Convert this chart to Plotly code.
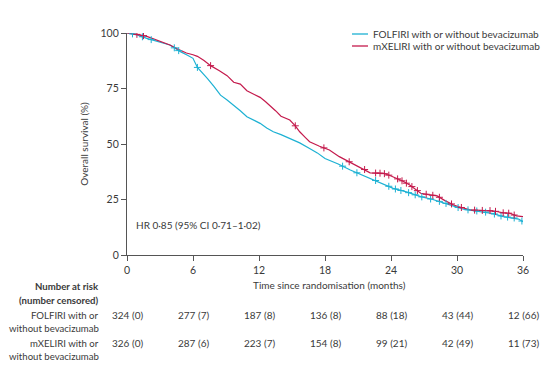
import numpy as np
import plotly.graph_objects as go

# ---- data ----
fol_t = [0, 0.5, 1.0, 1.8, 2.5, 3.2, 3.9, 4.4, 4.85, 5.5, 6.0, 6.4, 6.9, 7.3, 7.9, 8.5, 9.1, 9.7, 10.3, 10.9, 11.5, 12.1, 12.7,
         13.3, 14.0, 14.8, 15.7, 16.6, 17.3, 18.0, 19.2, 20.3, 21.2, 22.1, 23.2, 24.2, 25.4, 26.7, 27.8, 28.8, 29.7,
         30.6, 31.5, 32.4, 33.3, 34.2, 35.1, 35.6, 36.0]
fol_s = [100, 99.6, 99.0, 97.6, 96.6, 95.6, 94.6, 93.0, 91.6, 90.0, 88.6, 84.5, 82.0, 79.6, 76.0, 72.0, 69.8, 67.6, 65.0, 62.3, 60.8, 59.3, 57.2,
         55.5, 54.2, 52.5, 50.5, 48.0, 46.0, 43.5, 41.0, 38.3, 36.4, 34.5, 32.4, 30.0, 28.4, 26.3, 25.0, 23.6, 22.0,
         20.6, 20.0, 19.5, 18.6, 17.3, 16.8, 16.2, 15.0]

mx_t = [0, 0.5, 1.0, 1.8, 2.8, 3.9, 4.6, 5.4, 6.0, 6.4, 7.0, 7.6, 8.4, 9.1, 9.7, 10.3, 10.9, 11.5, 12.1, 12.6, 13.0, 13.5,
        14.0, 14.8, 15.3, 15.7, 16.2, 16.6, 17.5, 18.4, 19.3, 20.0, 20.8, 21.5, 22.1, 22.7, 23.3, 23.9, 24.5, 25.1, 25.7,
        26.2, 26.7, 27.4, 28.2, 28.9, 29.7, 30.4, 31.2, 32.1, 33.0, 33.6, 34.2, 34.8, 35.4, 36.0]
mx_s = [100, 99.7, 99.3, 98.5, 96.8, 94.6, 92.8, 91.0, 90.2, 89.5, 87.6, 85.3, 83.0, 80.8, 77.8, 77.0, 74.0, 72.5, 71.0, 69.0, 67.3, 65.0,
        62.5, 60.8, 58.2, 55.5, 53.0, 51.0, 49.0, 47.3, 44.3, 42.5, 40.5, 38.8, 37.0, 36.9, 36.8, 35.8, 34.5, 33.2, 31.5,
        29.8, 27.8, 27.2, 26.6, 24.5, 22.5, 21.4, 20.3, 20.1, 20.0, 19.6, 19.0, 18.8, 17.6, 17.3]

fol_cens = [0.5, 1.4, 2.2, 4.3, 4.7, 6.4, 19.6, 20.9, 22.6, 23.8, 24.4, 24.9, 25.6, 26.2, 26.8, 27.6, 28.4, 29.0,
            30.1, 31.0, 31.8, 32.6, 33.4, 34.0, 34.6, 35.2, 35.9]
mx_cens = [0.9, 1.5, 7.6, 15.3, 17.9, 20.2, 21.6, 22.6, 23.0, 23.4, 23.8, 24.6, 25.0, 25.4, 25.9, 26.4, 27.2, 27.8,
           28.4, 29.5, 30.4, 31.6, 32.3, 33.0, 33.5, 34.2, 34.7, 35.2]

risk_times = [0, 6, 12, 18, 24, 30, 36]
fol_risk = ["324 (0)", "277 (7)", "187 (8)", "136 (8)", "88 (18)", "43 (44)", "12 (66)"]
mx_risk = ["326 (0)", "287 (6)", "223 (7)", "154 (8)", "99 (21)", "42 (49)", "11 (73)"]

names = ["FOLFIRI with or without bevacizumab", "mXELIRI with or without bevacizumab"]
CYAN = "#1db1d3"
RED = "#c41a4c"
TXT = "#3a3a3a"
AX = "#555555"
FONT = "Lato"
FS = 10.0     # titles, legend, HR
FR = 9.6      # risk-table row labels
FT = 10.5     # tick labels
FN = 10.0     # risk numbers

# plot area in screenshot pixels (page has an 8px body margin)
PL, PR, PT, PB = 127, 523, 33, 255


def px(xp):
    return (xp - PL) / (PR - PL)


def py(yp):
    return (PB - yp) / (PB - PT)


fig = go.Figure()
fig.add_trace(go.Scatter(x=fol_t, y=fol_s, mode="lines", line=dict(color=CYAN, width=1.2), name=names[0]))
fig.add_trace(go.Scatter(x=mx_t, y=mx_s, mode="lines", line=dict(color=RED, width=1.2), name=names[1]))
fig.add_trace(go.Scatter(x=fol_cens, y=np.interp(fol_cens, fol_t, fol_s), mode="markers",
                         marker=dict(symbol="cross-thin", size=5, line=dict(color=CYAN, width=1))))
fig.add_trace(go.Scatter(x=mx_cens, y=np.interp(mx_cens, mx_t, mx_s), mode="markers",
                         marker=dict(symbol="cross-thin", size=5, line=dict(color=RED, width=1))))

axis_common = dict(showline=True, linecolor=AX, linewidth=1.2, ticks="outside", ticklen=5,
                   tickcolor=AX, showgrid=False, zeroline=False,
                   tickfont=dict(family=FONT, size=FT, color=TXT))
fig.update_xaxes(range=[0, 36], tickvals=risk_times, **axis_common)
fig.update_yaxes(range=[0, 100], tickvals=[0, 25, 50, 75, 100],
                 title=dict(text="Overall survival (%)", font=dict(family=FONT, size=FS, color=TXT), standoff=10),
                 **axis_common)

ann = []
shapes = []
ann.append(dict(x=px(134), y=py(225), xref="paper", yref="paper", text="HR 0·85 (95% CI 0·71–1·02)",
                showarrow=False, xanchor="left", yanchor="middle", font=dict(family=FONT, size=FS, color=TXT)))
ann.append(dict(x=px(329), y=py(285), xref="paper", yref="paper", text="Time since randomisation (months)",
                showarrow=False, xanchor="center", yanchor="middle", font=dict(family=FONT, size=FS, color=TXT)))

# manual legend
for name, col, yp in [(names[0], CYAN, 34), (names[1], RED, 46)]:
    shapes.append(dict(type="line", xref="paper", yref="paper", x0=px(352), x1=px(368), y0=py(yp), y1=py(yp),
                       line=dict(color=col, width=1.3)))
    ann.append(dict(x=px(371), y=py(yp), xref="paper", yref="paper", text=name, showarrow=False,
                    xanchor="left", yanchor="middle", font=dict(family=FONT, size=FS, color=TXT)))

# risk table row labels
labels = [("<b>Number at risk</b>", 286), ("<b>(number censored)</b>", 300), ("FOLFIRI with or", 315),
          ("without bevacizumab", 328), ("mXELIRI with or", 343), ("without bevacizumab", 356)]
for t, yp in labels:
    ann.append(dict(x=px(101), y=py(yp), xref="paper", yref="paper", text=t, showarrow=False,
                    xanchor="right", yanchor="middle", font=dict(family=FONT, size=FR, color=TXT)))
for k, t in enumerate(risk_times):
    ann.append(dict(x=t, y=py(315), xref="x", yref="paper", text=fol_risk[k], showarrow=False,
                    xanchor="center", yanchor="middle", font=dict(family=FONT, size=FN, color=TXT)))
    ann.append(dict(x=t, y=py(343), xref="x", yref="paper", text=mx_risk[k], showarrow=False,
                    xanchor="center", yanchor="middle", font=dict(family=FONT, size=FN, color=TXT)))

fig.update_layout(
    width=541, height=379,
    margin=dict(l=PL - 8, r=549 - PR, t=PT - 8, b=387 - PB),
    plot_bgcolor="white", paper_bgcolor="white",
    font=dict(family=FONT, size=FS, color=TXT),
    showlegend=False,
    annotations=ann,
    shapes=shapes,
)
fig.update_yaxes(automargin=False)
fig.update_xaxes(automargin=False)

fig.write_html("out.html")
